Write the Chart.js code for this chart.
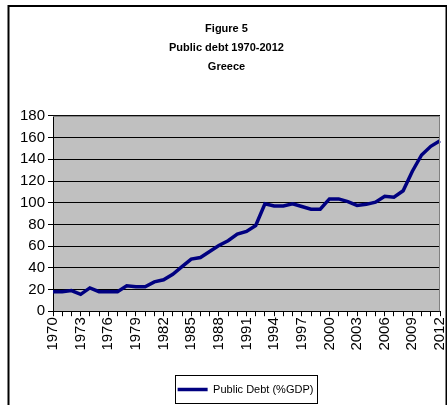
<!DOCTYPE html>
<html>
<head>
<meta charset="utf-8">
<script src="https://cdn.jsdelivr.net/npm/chart.js@4/dist/chart.umd.min.js"></script>
<style>
  html, body { margin: 0; padding: 0; background: #fff; }
  #wrap { position: relative; width: 447px; height: 405px; }
</style>
</head>
<body>
<div id="wrap"><canvas id="chart"></canvas></div>
<script>
// Dados
const years = [];
for (let y = 1970; y <= 2012; y++) years.push(String(y));

const debtValues = [
    18, 18, 19, 15.5, 21.5, 18, 18, 18, 23.5, 22.5,
    22.5, 27, 29, 34, 41, 48, 49.5, 55, 60.5, 65,
    71, 73.5, 79, 99, 97, 97, 99, 96.5, 94, 94,
    103.5, 103.5, 101, 97.5, 98.5, 100.5, 106, 105, 111, 129,
    144, 152, 157
];

const titleLines = ['Figure 5', 'Public debt 1970-2012', 'Greece'];
const seriesLabel = 'Public Debt (%GDP)';

const FONT = "'Liberation Sans', Arial, sans-serif";
const LEGEND_SHIFT = 19; // legenda fica deslocada para a direita no original

// Fundo cinza da área do gráfico + moldura externa + caixa da legenda
const framePlugin = {
    id: 'frame',
    afterLayout: (chart) => {
        chart.legend.left += LEGEND_SHIFT;
        chart.legend.right += LEGEND_SHIFT;
    },
    beforeDraw: (chart) => {
        const { ctx, chartArea: a } = chart;
        ctx.save();
        ctx.fillStyle = '#C0C0C0';
        ctx.fillRect(a.left, a.top, a.right - a.left, a.bottom - a.top);
        ctx.restore();
    },
    afterDraw: (chart) => {
        const { ctx, chartArea: a } = chart;
        ctx.save();
        // borda cinza da área de plotagem (topo e direita)
        ctx.strokeStyle = '#808080';
        ctx.lineWidth = 1;
        ctx.beginPath();
        ctx.moveTo(a.left, a.top + 0.5);
        ctx.lineTo(a.right - 0.5, a.top + 0.5);
        ctx.lineTo(a.right - 0.5, a.bottom);
        ctx.stroke();
        // moldura externa
        ctx.strokeStyle = '#000';
        ctx.lineWidth = 2;
        ctx.strokeRect(8.5, 6, 438, 500);
        // caixa da legenda, centrada no item
        const hb = chart.legend.legendHitBoxes[0];
        if (hb) {
            const cx = (chart.legend.left + chart.legend.right) / 2;
            const cy = hb.top + hb.height / 2;
            ctx.lineWidth = 1;
            ctx.strokeStyle = '#000';
            ctx.strokeRect(Math.round(cx - 71) + 0.5, Math.round(cy - 15) + 0.5, 142, 28);
        }
        ctx.restore();
    }
};

new Chart(document.getElementById('chart'), {
    type: 'line',
    plugins: [framePlugin],
    data: {
        labels: years,
        datasets: [{
            label: seriesLabel,
            data: debtValues,
            borderColor: '#000080',
            backgroundColor: '#000080',
            borderWidth: 3.5,
            pointRadius: 0,
            tension: 0,
            fill: false
        }]
    },
    options: {
        responsive: true,
        maintainAspectRatio: false,
        animation: false,
        layout: { padding: { left: 13, right: 7, top: 0, bottom: 0 } },
        plugins: {
            title: {
                display: true,
                text: titleLines,
                color: '#000',
                font: { family: FONT, size: 11, weight: 'bold', lineHeight: 1.77 },
                padding: { top: 18.75, bottom: 38.75 }
            },
            legend: {
                position: 'bottom',
                labels: {
                    color: '#000',
                    font: { family: FONT, size: 11 },
                    usePointStyle: true,
                    pointStyle: 'line',
                    pointStyleWidth: 30,
                    padding: 10
                }
            },
            tooltip: { enabled: false }
        },
        scales: {
            x: {
                offset: false,
                grid: {
                    drawOnChartArea: false,
                    drawTicks: true,
                    tickLength: 5,
                    color: '#000'
                },
                border: { color: '#000', width: 1 },
                ticks: {
                    autoSkip: false,
                    maxRotation: 90,
                    minRotation: 90,
                    padding: 1,
                    color: '#000',
                    font: { family: FONT, size: 15 },
                    callback: function (val, i) {
                        return i % 3 === 0 ? this.getLabelForValue(val) : '';
                    }
                },
                afterFit: (scale) => {
                    scale.height = 62.8;
                    scale.paddingRight = 0;
                    scale.paddingLeft = 0;
                }
            },
            y: {
                min: 0,
                max: 180,
                grid: {
                    color: '#000',
                    tickLength: 5
                },
                border: { color: '#000', width: 1 },
                ticks: {
                    stepSize: 20,
                    padding: 3,
                    color: '#000',
                    font: { family: FONT, size: 15 }
                },
                afterFit: (scale) => {
                    scale.width = 40;
                }
            }
        }
    }
});
</script>
</body>
</html>
